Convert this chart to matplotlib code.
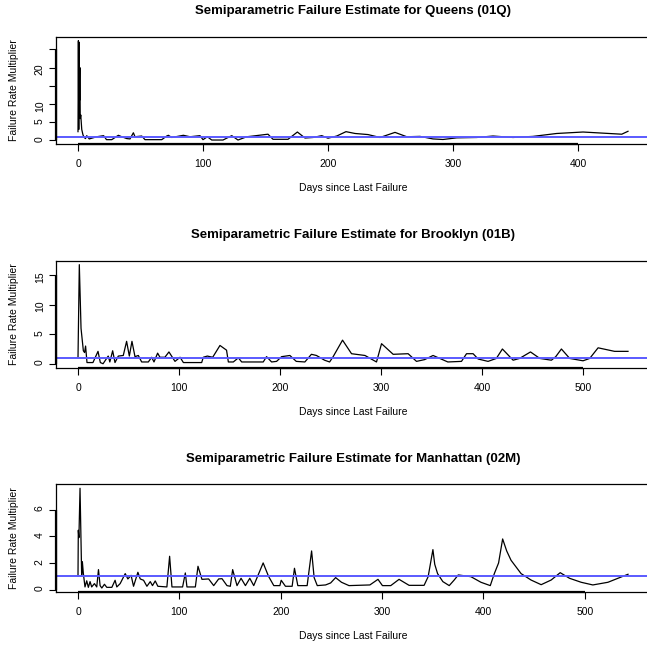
import matplotlib
matplotlib.use('Agg')
from matplotlib import pyplot as plt

plt.rcParams['font.family'] = ['Liberation Sans', 'DejaVu Sans']

# Queens (01Q)
queens_days = [0, 0.3, 0.6, 0.9, 1.2, 1.5, 1.8, 2.2, 2.6, 3, 4, 5, 6, 7, 9, 15, 20.5, 22.8,
               27, 32.3, 35, 39, 41.6, 44.3, 45.6, 51, 53.6, 63, 67, 71, 72.3, 75, 84.3,
               89.6, 97.6, 100, 103.5, 107, 116, 123, 128, 135, 140, 152, 156, 168, 175.5,
               181.6, 188, 195, 200, 207, 214.4, 221.6, 232, 241.6, 253.6, 263, 273.6, 284,
               292, 303, 319, 332, 348, 364, 383, 404, 435, 440]
queens_rate = [2.4, 27.4, 3.0, 27.0, 11.0, 20.0, 6.0, 7.0, 5.0, 3.0, 1.5, 0.8, 0.5, 1.3, 0.4,
               1.0, 1.3, 0.2, 0.2, 1.4, 1.0, 0.5, 0.4, 2.1, 1.0, 1.2, 0.2, 0.2, 0.2, 1.2, 1.4,
               0.8, 1.4, 1.0, 1.3, 0.2, 1.0, 0.1, 0.1, 1.3, 0.1, 1.0, 1.2, 1.7, 0.3, 0.3, 2.3,
               0.65, 0.8, 1.3, 0.6, 1.2, 2.4, 1.9, 1.6, 0.8, 2.2, 1.0, 1.1, 0.4, 0.25, 0.7,
               0.8, 1.2, 0.8, 1.1, 1.9, 2.3, 1.7, 2.5]

# Brooklyn (01B)
brooklyn_days = [0, 1.3, 3, 5.3, 6.5, 7.5, 8.9, 14.8, 19.8, 22.1, 24.8, 29.9, 31.5, 34.3, 36.6,
                 39.9, 44.8, 48.1, 50.8, 53.4, 56.4, 59.7, 63, 69.6, 72.9, 75.2, 78.8, 81.1,
                 86, 90, 96, 101, 104.3, 122.4, 124, 128, 133.3, 140.5, 147, 148.8, 153.7,
                 158.7, 162, 183.3, 186.6, 191.6, 196.5, 201.5, 209.7, 216, 224.5, 231, 236,
                 244, 249, 252.5, 261.8, 270.7, 284, 295.4, 300.4, 311.9, 326.7, 335, 343,
                 351.4, 366, 379.5, 384.5, 391, 396, 405.8, 414, 420, 430.6, 437, 447.8, 457,
                 468.5, 472.8, 478.4, 486.6, 499.8, 506.4, 514.7, 531, 544.3]
brooklyn_rate = [1.0, 16.8, 6.0, 2.2, 1.9, 3.0, 0.2, 0.2, 2.1, 0.2, 0.0, 1.3, 0.3, 2.2, 0.2,
                 1.3, 1.4, 3.8, 1.3, 3.8, 1.2, 1.4, 0.3, 0.3, 1.1, 0.3, 1.8, 1.1, 1.1, 2.0,
                 0.4, 1.1, 0.2, 0.2, 1.1, 1.3, 1.1, 3.1, 2.3, 0.3, 0.3, 1.0, 0.3, 0.3, 1.2,
                 0.3, 0.4, 1.2, 1.4, 0.4, 0.3, 1.6, 1.4, 0.6, 0.3, 1.2, 4.0, 1.7, 1.4, 0.3,
                 3.4, 1.6, 1.7, 0.4, 0.7, 1.4, 0.3, 0.4, 1.7, 1.7, 0.8, 0.4, 0.9, 2.5, 0.6,
                 0.9, 2.0, 0.9, 0.6, 1.2, 2.5, 0.9, 0.5, 0.9, 2.7, 2.1, 2.1]

# Manhattan (02M)
manhattan_days = [0, 0.3, 0.9, 2.0, 3.6, 4.3, 5.3, 6.9, 8.6, 10.2, 11.9, 13.5, 16.2, 18.5, 20.2,
                  21.8, 23.5, 26.1, 28.4, 33.4, 36.6, 38.3, 41.6, 46.6, 49.2, 52.4, 54.8, 59.1,
                  61.4, 64.7, 68, 71.3, 73.5, 76.2, 78.8, 87.7, 90.4, 92.7, 103.2, 105.9, 107.5,
                  115.8, 118.4, 122.3, 128.9, 133.9, 138.8, 142.1, 147, 150.3, 152.6, 156.9,
                  160.9, 165.2, 169.5, 173.4, 182.7, 188, 193.2, 199.2, 200.5, 204.7, 211.3,
                  213.6, 216.9, 226.1, 230.5, 233, 236.1, 244.3, 249.3, 254.2, 260, 267.4, 288,
                  296, 300.4, 308.6, 316.8, 326.7, 341.5, 345.5, 350.2, 352, 354.8, 360, 366.3,
                  371.2, 375.2, 387.7, 397.6, 406.8, 410.8, 415, 419, 423, 427.3, 437.2, 447, 457,
                  466.9, 475.8, 485, 496.5, 508, 522.9, 542.7]
manhattan_rate = [1.0, 4.45, 3.9, 7.6, 1.1, 2.1, 1.2, 0.2, 0.66, 0.17, 0.6, 0.2, 0.45, 0.2, 1.5,
                  0.3, 0.12, 0.4, 0.17, 0.17, 0.7, 0.2, 0.45, 1.2, 0.8, 1.07, 0.25, 1.3, 0.8,
                  0.7, 0.25, 0.6, 0.3, 0.65, 0.25, 0.2, 2.5, 0.2, 0.2, 1.25, 0.2, 0.2, 1.75,
                  0.77, 0.8, 0.3, 0.8, 0.82, 0.3, 0.25, 1.5, 0.3, 0.85, 0.3, 0.85, 0.3, 2.0, 1.0,
                  0.3, 0.3, 0.7, 0.25, 0.25, 1.6, 0.3, 0.3, 2.9, 0.9, 0.3, 0.35, 0.5, 0.9, 0.55,
                  0.3, 0.35, 0.77, 0.3, 0.3, 0.77, 0.32, 0.32, 0.97, 3.0, 1.9, 1.2, 0.6, 0.3,
                  0.72, 1.1, 0.97, 0.55, 0.3, 1.2, 2.0, 3.8, 2.9, 2.2, 1.2, 0.72, 0.37, 0.72, 1.27,
                  0.85, 0.55, 0.35, 0.55, 1.15]

panels = [
    ('Queens (01Q)', queens_days, queens_rate, [0, 5, 10, 15, 20, 25], ['0', '5', '10', '', '20', ''], [0, 100, 200, 300, 400]),
    ('Brooklyn (01B)', brooklyn_days, brooklyn_rate, [0, 5, 10, 15], ['0', '5', '10', '15'], [0, 100, 200, 300, 400, 500]),
    ('Manhattan (02M)', manhattan_days, manhattan_rate, [0, 2, 4, 6], ['0', '2', '4', '6'], [0, 100, 200, 300, 400, 500]),
]

W, H = 647, 646
fig = plt.figure(figsize=(W / 100, H / 100), dpi=100)

tops = [36.7, 260.7, 484.3]
bottoms = [144, 367.7, 592]
left_px, right_px = 56, 650

for (name, days, rate, yt, ytl, xt), top, bot in zip(panels, tops, bottoms):
    ax = fig.add_axes([left_px / W, 1 - bot / H, (right_px - left_px) / W, (bot - top) / H])
    ax.plot(days, rate, color='black', lw=0.9)
    # R style 4% padding around the data
    dx = (max(days) - min(days)) * 0.04
    dy = (max(rate) - min(rate)) * 0.04
    ax.set_xlim(min(days) - dx, max(days) + dx)
    ax.set_ylim(min(rate) - dy, max(rate) + dy)
    ax.axhline(1, color='#5a5aff', lw=1.4)
    ax.set_xticks(xt)
    ax.set_yticks(yt)
    ax.set_yticklabels(ytl)
    ax.tick_params(axis='y', labelrotation=90)
    ax.tick_params(length=5, width=0.8, labelsize=7.5)
    ax.tick_params(axis='x', pad=6)
    ax.tick_params(axis='y', pad=3)
    for s in ax.spines.values():
        s.set_linewidth(0.9)
    # R axis lines (first to last tick) on top of the box
    y0 = ax.get_ylim()[0]
    x0 = ax.get_xlim()[0]
    ax.plot([xt[0], xt[-1]], [y0, y0], color='black', lw=1.6, clip_on=False, solid_capstyle='butt')
    ax.plot([x0, x0], [yt[0], yt[-1]], color='black', lw=1.6, clip_on=False, solid_capstyle='butt')
    ax.set_title('Semiparametric Failure Estimate for ' + name, fontsize=9.5, fontweight='bold', pad=16)
    ax.set_xlabel('Days since Last Failure', fontsize=7.5)
    ax.set_ylabel('Failure Rate Multiplier', fontsize=7.5)
    hpx = bot - top
    ax.xaxis.set_label_coords(0.5, -39 / hpx)
    ax.yaxis.set_label_coords(-37 / (right_px - left_px), 0.5)

fig.savefig('out.png', dpi=100)
